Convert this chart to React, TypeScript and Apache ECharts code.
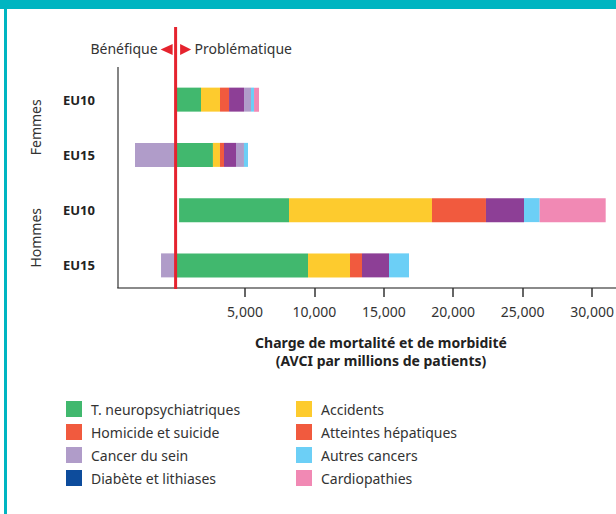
import React, { useEffect, useRef } from "react";
import * as echarts from "echarts";

const categories = ["Femmes EU10", "Femmes EU15", "Hommes EU10", "Hommes EU15"];
const groups = ["Femmes", "Hommes"];
const tickValues = [5000, 10000, 15000, 20000, 25000, 30000];

const decalage = [0, 0, 250, 0];
const neuro = [1830, 2690, 7920, 9540];
const accidents = [1370, 505, 10300, 3025];
const homicide = [650, 290, 3890, 865];
const hepatiques = [1080, 865, 2740, 1945];
const cancerSein = [500, 575, 0, 0];
const autresCancers = [220, 290, 1130, 1440];
const diabete = [0, 0, 0, 0];
const cardio = [360, 0, 4755, 0];
const benefice = [0, -2925, 0, -1050];

const FONT = "Noto Sans";
const TXT = "#333";

export default function App() {
  const ref = useRef<HTMLDivElement>(null);
  useEffect(() => {
    document.body.style.margin = "0";
    const chart = echarts.init(ref.current!, null, { renderer: "svg" });
    const mk = (name: string, data: number[], color: string) => ({
      name,
      type: "bar",
      stack: "total",
      data,
      barWidth: 24,
      itemStyle: { color },
      emphasis: { disabled: true },
    });
    chart.setOption({
      animation: false,
      textStyle: { fontFamily: FONT },
      grid: { left: 118, right: -28, top: 72, height: 221, outerBoundsMode: "none", containLabel: false },
      xAxis: {
        type: "value",
        min: -4150,
        max: 33745,
        offset: -5,
        splitLine: { show: false },
        axisLine: { show: true, lineStyle: { color: "#8a8a8a", width: 2 } },
        axisTick: { show: true, length: 9, customValues: tickValues, lineStyle: { color: "#333", width: 1.5 } },
        axisLabel: {
          customValues: tickValues,
          margin: 16,
          fontSize: 14,
          color: TXT,
          formatter: (v: number) => v.toLocaleString("en-US"),
        },
        name: "Charge de mortalité et de morbidité\n(AVCI par millions de patients)",
        nameLocation: "middle",
        nameGap: 45,
        nameTextStyle: { fontSize: 14, fontWeight: "bold", color: "#222", lineHeight: 18 },
      },
      yAxis: [
        {
          type: "category",
          inverse: true,
          data: categories,
          axisLine: { show: false },
          axisTick: { show: false },
          axisLabel: {
            margin: 23,
            fontSize: 13,
            fontWeight: "bold",
            color: "#222",
            formatter: (v: string) => v.split(" ")[1],
          },
        },
        {
          type: "category",
          inverse: true,
          position: "left",
          data: groups,
          axisLine: { show: false },
          axisTick: { show: false },
          axisLabel: { rotate: 90, margin: 76, fontSize: 14, color: TXT },
        },
      ],
      legend: [
        {
          left: 66,
          top: 401,
          orient: "vertical",
          itemWidth: 16,
          itemHeight: 16,
          itemGap: 7,
          icon: "rect",
          selectedMode: false,
          padding: 0,
          textStyle: { fontSize: 14, color: TXT, padding: [0, 0, 0, 4] },
          data: ["T. neuropsychiatriques", "Homicide et suicide", "Cancer du sein", "Diabète et lithiases"],
        },
        {
          left: 296,
          top: 401,
          orient: "vertical",
          itemWidth: 16,
          itemHeight: 16,
          itemGap: 7,
          icon: "rect",
          selectedMode: false,
          padding: 0,
          textStyle: { fontSize: 14, color: TXT, padding: [0, 0, 0, 4] },
          data: [
            "Accidents",
            { name: "Atteintes hépatiques", itemStyle: { color: "#F15A3E" } },
            "Autres cancers",
            "Cardiopathies",
          ],
        },
      ],
      series: [
        mk("Décalage", decalage, "rgba(0,0,0,0)"),
        mk("T. neuropsychiatriques", neuro, "#41B86E"),
        mk("Accidents", accidents, "#FDCB2E"),
        mk("Homicide et suicide", homicide, "#F15A3E"),
        mk("Atteintes hépatiques", hepatiques, "#8D3F96"),
        mk("Cancer du sein", cancerSein, "#B09CC9"),
        mk("Autres cancers", autresCancers, "#6CCFF6"),
        mk("Diabète et lithiases", diabete, "#0D4C9C"),
        mk("Cardiopathies", cardio, "#F189B4"),
        mk("Effet bénéfique", benefice, "#B09CC9"),
      ],
    });
    const x0 = chart.convertToPixel({ xAxisIndex: 0 }, 0) as number;
    const red = "#E5232E";
    chart.setOption({
      graphic: [
        { type: "line", z: 50, shape: { x1: 118, y1: 67, x2: 118, y2: 288 }, style: { stroke: "#333", lineWidth: 1.2 } },
        { type: "line", z: 60, shape: { x1: x0, y1: 27, x2: x0, y2: 289 }, style: { stroke: red, lineWidth: 3 } },
        { type: "polygon", z: 60, shape: { points: [[x0 - 15, 49.5], [x0 - 3, 44], [x0 - 3, 55]] }, style: { fill: red } },
        { type: "polygon", z: 60, shape: { points: [[x0 + 15.5, 49.5], [x0 + 4.5, 44], [x0 + 4.5, 55]] }, style: { fill: red } },
        { type: "text", z: 60, x: x0 - 18, y: 48, style: { text: "Bénéfique", font: `14px '${FONT}'`, fill: TXT, align: "right", verticalAlign: "middle" } },
        { type: "text", z: 60, x: x0 + 19, y: 48, style: { text: "Problématique", font: `14px '${FONT}'`, fill: TXT, align: "left", verticalAlign: "middle" } },
      ],
    });
    return () => chart.dispose();
  }, []);
  return (
    <div style={{ position: "relative", width: 616, height: 514, background: "#fff", overflow: "hidden" }}>
      <div ref={ref} style={{ position: "absolute", left: 0, top: 0, width: 616, height: 514 }} />
      <div style={{ position: "absolute", left: 0, top: 0, width: 616, height: 9, background: "#00B5C1" }} />
      <div style={{ position: "absolute", left: 4, top: 9, width: 3, height: 505, background: "#00B5C1" }} />
    </div>
  );
}
